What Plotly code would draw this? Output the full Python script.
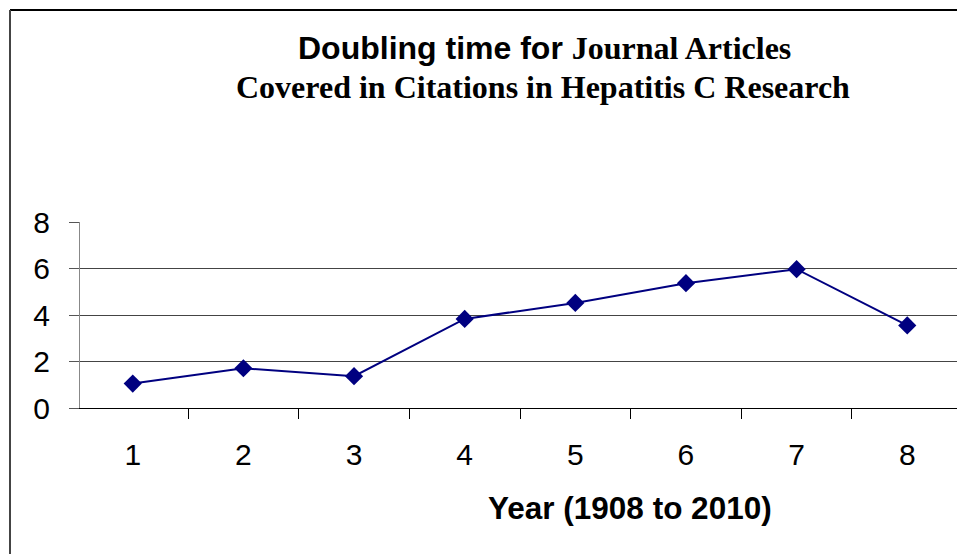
import plotly.graph_objects as go

categories = ["1", "2", "3", "4", "5", "6", "7", "8"]
doubling_time = [1.05, 1.71, 1.37, 3.83, 4.52, 5.37, 5.97, 3.55]
y_ticks = [0, 2, 4, 6, 8]

# page has 8px body margin; figure sized to fit the 965x554 window
OFF = 8
W, H = 965 - OFF, 554 - OFF
PL, PR, PT, PB = 80, 960, 222, 408  # plot area in page pixels
L, R, T, B = PL - OFF, W - (PR - OFF), PT - OFF, H - (PB - OFF)
pw, ph = PR - PL, PB - PT

def px2x(px):
    return (px - PL) / pw

def px2y(py):
    return (PB - py) / ph

fig = go.Figure()
fig.add_trace(go.Scatter(
    x=categories, y=doubling_time, mode="lines+markers",
    line=dict(color="#000080", width=2),
    marker=dict(symbol="diamond", size=14, color="#000080"),
    showlegend=False, cliponaxis=False,
))

fig.update_layout(
    width=W, height=H,
    margin=dict(l=L, r=R, t=T, b=B),
    paper_bgcolor="white", plot_bgcolor="white",
    font=dict(family="Liberation Sans, Arial", color="black"),
    xaxis=dict(
        type="category", tickson="boundaries", ticks="outside", ticklen=10,
        tickcolor="black", showline=True, linecolor="black", linewidth=1,
        showgrid=False, tickfont=dict(size=30), ticklabelstandoff=20,
    ),
    yaxis=dict(
        range=[0, 8], tickvals=y_ticks, ticks="outside", ticklen=10,
        tickcolor="#555", showline=True, linecolor="#888", linewidth=1,
        mirror=True, showgrid=True, gridcolor="#444", gridwidth=1,
        zeroline=False, tickfont=dict(size=30), ticklabelstandoff=13,
    ),
    annotations=[
        dict(xref="paper", yref="paper", x=px2x(544), y=px2y(48),
             xanchor="center", yanchor="middle", showarrow=False,
             text="<b>Doubling time for </b><span style=\"font-family:'Liberation Serif', 'Times New Roman'\"><b>Journal Articles</b></span>",
             font=dict(size=32, family="Liberation Sans, Arial")),
        dict(xref="paper", yref="paper", x=px2x(543), y=px2y(87),
             xanchor="center", yanchor="middle", showarrow=False,
             text="<b>Covered in Citations in Hepatitis C Research</b>",
             font=dict(size=32, family="Liberation Serif, Times New Roman")),
        dict(xref="paper", yref="paper", x=px2x(630), y=px2y(508),
             xanchor="center", yanchor="middle", showarrow=False,
             text="<b>Year (1908 to 2010)</b>",
             font=dict(size=31.5, family="Liberation Sans, Arial")),
    ],
    shapes=[
        dict(type="line", xref="paper", yref="paper",
             x0=px2x(10), y0=px2y(10), x1=px2x(970), y1=px2y(10),
             line=dict(color="black", width=2)),
        dict(type="line", xref="paper", yref="paper",
             x0=px2x(10), y0=px2y(10), x1=px2x(10), y1=px2y(560),
             line=dict(color="#444", width=2)),
    ],
)

fig.write_html("out.html")
